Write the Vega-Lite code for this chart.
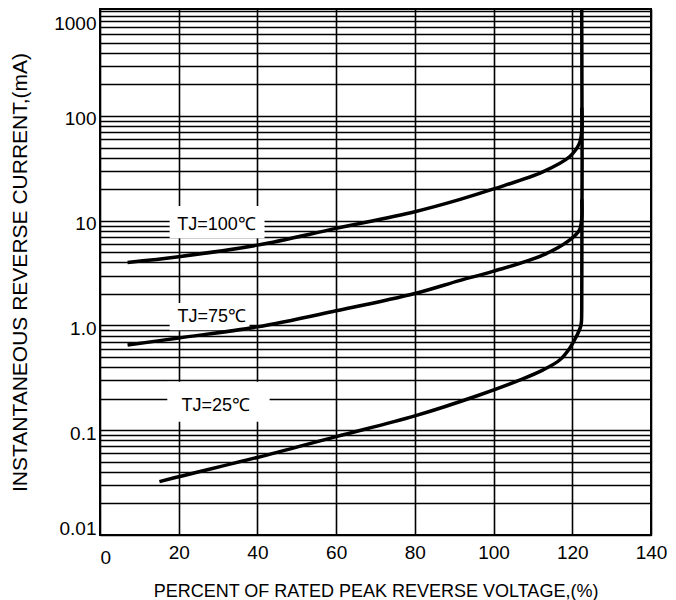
{
  "$schema": "https://vega.github.io/schema/vega-lite/v6.json",
  "width": 551,
  "height": 526,
  "autosize": {"type": "none"},
  "padding": {"left": 100, "top": 9, "right": 25, "bottom": 65},
  "background": "white",
  "config": {
    "font": "Liberation Sans",
    "view": {"stroke": "black", "strokeWidth": 2},
    "axis": {
      "grid": true,
      "gridColor": "black",
      "gridOpacity": 1,
      "gridWidth": 1.6,
      "domain": false,
      "ticks": false,
      "labelFont": "Liberation Sans",
      "labelFontSize": 19,
      "labelColor": "black",
      "titleFont": "Liberation Sans",
      "titleFontSize": 18,
      "titleFontWeight": "normal",
      "titleColor": "black"
    }
  },
  "datasets": {
    "curves": [
      {"series": "TJ=100", "x": 7, "y": 4.0},
      {"series": "TJ=100", "x": 20, "y": 4.53},
      {"series": "TJ=100", "x": 40, "y": 5.85},
      {"series": "TJ=100", "x": 60, "y": 8.45},
      {"series": "TJ=100", "x": 80, "y": 12.2},
      {"series": "TJ=100", "x": 91.3, "y": 15.9},
      {"series": "TJ=100", "x": 99.8, "y": 20.0},
      {"series": "TJ=100", "x": 112.5, "y": 29.3},
      {"series": "TJ=100", "x": 119.3, "y": 40.8},
      {"series": "TJ=100", "x": 121.8, "y": 54.7},
      {"series": "TJ=100", "x": 122.4, "y": 72},
      {"series": "TJ=100", "x": 122.4, "y": 120},
      {"series": "TJ=75", "x": 7, "y": 0.65},
      {"series": "TJ=75", "x": 20, "y": 0.76},
      {"series": "TJ=75", "x": 40, "y": 0.97},
      {"series": "TJ=75", "x": 60, "y": 1.38},
      {"series": "TJ=75", "x": 80, "y": 2.02},
      {"series": "TJ=75", "x": 91.3, "y": 2.68},
      {"series": "TJ=75", "x": 99.8, "y": 3.28},
      {"series": "TJ=75", "x": 112.5, "y": 4.69},
      {"series": "TJ=75", "x": 119.3, "y": 6.53},
      {"series": "TJ=75", "x": 121.8, "y": 8.13},
      {"series": "TJ=75", "x": 122.4, "y": 10.5},
      {"series": "TJ=75", "x": 122.4, "y": 16},
      {"series": "TJ=25", "x": 15.1, "y": 0.0323},
      {"series": "TJ=25", "x": 20, "y": 0.036},
      {"series": "TJ=25", "x": 40, "y": 0.055},
      {"series": "TJ=25", "x": 60, "y": 0.087},
      {"series": "TJ=25", "x": 80, "y": 0.137},
      {"series": "TJ=25", "x": 96.4, "y": 0.217},
      {"series": "TJ=25", "x": 106.6, "y": 0.301},
      {"series": "TJ=25", "x": 112.5, "y": 0.375},
      {"series": "TJ=25", "x": 116.8, "y": 0.468},
      {"series": "TJ=25", "x": 119.3, "y": 0.604},
      {"series": "TJ=25", "x": 121, "y": 0.78},
      {"series": "TJ=25", "x": 122.2, "y": 1.0},
      {"series": "TJ=25", "x": 122.4, "y": 1.4},
      {"series": "TJ=25", "x": 122.4, "y": 1080}
    ],
    "labels": [
      {"text": "TJ=100℃", "x": 29.6, "y": 9.1, "x1": 17.7, "x2": 41.8, "y1": 6.8, "y2": 13.8},
      {"text": "TJ=75℃", "x": 28.4, "y": 1.2, "x1": 17.7, "x2": 38, "y1": 0.9, "y2": 1.64},
      {"text": "TJ=25℃", "x": 29.4, "y": 0.17, "x1": 17.1, "x2": 43.1, "y1": 0.1205, "y2": 0.29}
    ]
  },
  "layer": [
    {
      "data": {"name": "labels"},
      "mark": {"type": "rect", "fill": "white", "stroke": null},
      "encoding": {
        "x": {
          "field": "x1",
          "type": "quantitative",
          "scale": {"domain": [0, 140], "nice": false},
          "axis": {
            "values": [0, 20, 40, 60, 80, 100, 120, 140],
            "title": "PERCENT OF RATED PEAK REVERSE VOLTAGE,(%)",
            "labelAlign": {"condition": {"test": "datum.value == 0", "value": "left"}, "value": "center"},
            "labelPadding": {"condition": {"test": "datum.value == 0", "value": 13}, "value": 8},
            "titlePadding": 15
          }
        },
        "x2": {"field": "x2"},
        "y": {
          "field": "y1",
          "type": "quantitative",
          "scale": {"type": "log", "domain": [0.01, 1050], "nice": false},
          "axis": {
            "values": [0.01, 0.02, 0.03, 0.04, 0.05, 0.06, 0.07, 0.08, 0.09, 0.1, 0.2, 0.3, 0.4, 0.5, 0.6, 0.7, 0.8, 0.9, 1, 2, 3, 4, 5, 6, 7, 8, 9, 10, 20, 30, 40, 50, 60, 70, 80, 90, 100, 200, 300, 400, 500, 600, 700, 800, 900, 1000],
            "labelExpr": "datum.value == 1000 ? '1000' : datum.value == 100 ? '100' : datum.value == 10 ? '10' : datum.value == 1 ? '1.0' : datum.value == 0.1 ? '0.1' : datum.value == 0.01 ? '0.01' : ''",
            "labelBaseline": {"condition": [{"test": "datum.value == 1000", "value": "top"}, {"test": "datum.value == 0.01", "value": "bottom"}], "value": "middle"},
            "labelPadding": 4,
            "labelOffset": 3,
            "title": "INSTANTANEOUS REVERSE CURRENT,(mA)",
            "titleFontSize": 21,
            "titlePadding": 23
          }
        },
        "y2": {"field": "y2"}
      }
    },
    {
      "data": {"name": "curves"},
      "mark": {"type": "line", "color": "black", "strokeWidth": 3.5, "interpolate": "catmull-rom", "clip": true},
      "encoding": {
        "x": {"field": "x", "type": "quantitative"},
        "y": {"field": "y", "type": "quantitative"},
        "detail": {"field": "series"},
        "order": {"value": null}
      }
    },
    {
      "data": {"name": "labels"},
      "mark": {"type": "text", "fontSize": 18, "color": "black", "font": "Liberation Sans", "align": "center", "baseline": "middle"},
      "encoding": {
        "x": {"field": "x", "type": "quantitative"},
        "y": {"field": "y", "type": "quantitative"},
        "text": {"field": "text"}
      }
    }
  ]
}
